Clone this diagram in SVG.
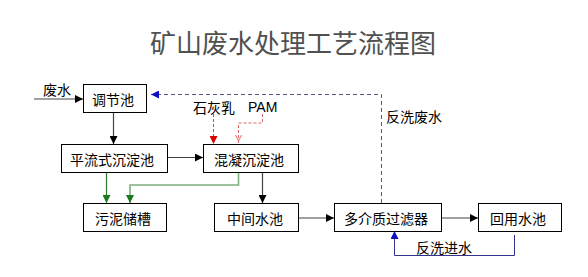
<svg xmlns="http://www.w3.org/2000/svg" width="588" height="277" viewBox="0 0 588 277">
<style>
text{font-family:"Noto Sans CJK SC","Liberation Sans",sans-serif;fill:#000}
.t{font-size:14px;text-anchor:middle;dominant-baseline:central}
.lbl{font-size:14px;dominant-baseline:central}
.title{font-size:26px;fill:#505050;text-anchor:middle;dominant-baseline:central}
rect{fill:#fff;stroke:#000;stroke-width:1}
.k{fill:none;stroke:#444;stroke-width:1.2}
.g{fill:none;stroke:#2a7a2a;stroke-width:1.2}
.lg{fill:none;stroke:#7fae7f;stroke-width:1.6}
.r{fill:none;stroke:#d44;stroke-width:1;stroke-dasharray:3 2}
.r2{fill:none;stroke:#d66;stroke-width:1;stroke-dasharray:3 2}
.bd{fill:none;stroke:#55558a;stroke-width:1;stroke-dasharray:4 3}
.b{fill:none;stroke:#33338a;stroke-width:1}
</style>
<defs>
<marker id="ak" markerUnits="userSpaceOnUse" markerWidth="8" markerHeight="8" refX="8" refY="4" orient="auto"><path d="M0,0 L8,4 L0,8 z" fill="#000"/></marker>
<marker id="ag" markerUnits="userSpaceOnUse" markerWidth="8" markerHeight="8" refX="8" refY="4" orient="auto"><path d="M0,0 L8,4 L0,8 z" fill="#1a7a1a"/></marker>
<marker id="ar" markerUnits="userSpaceOnUse" markerWidth="8" markerHeight="8" refX="8" refY="4" orient="auto"><path d="M0,0 L8,4 L0,8 z" fill="#d00"/></marker>
<marker id="ar2" markerUnits="userSpaceOnUse" markerWidth="8" markerHeight="8" refX="8" refY="4" orient="auto"><path d="M0,1 L6,4 L0,7" fill="none" stroke="#e66" stroke-width="1"/></marker>
<marker id="ab" markerUnits="userSpaceOnUse" markerWidth="8" markerHeight="8" refX="8" refY="4" orient="auto"><path d="M0,0 L8,4 L0,8 z" fill="#1010c0"/></marker>
</defs>
<text class="title" x="293" y="41">矿山废水处理工艺流程图</text>
<g id="connectors">
<line class="k" x1="34" y1="99" x2="83" y2="99" marker-end="url(#ak)"/>
<line class="k" x1="113.5" y1="112" x2="113.5" y2="144" marker-end="url(#ak)"/>
<line class="k" x1="167" y1="157.5" x2="203" y2="157.5" marker-end="url(#ak)"/>
<line class="g" x1="106.5" y1="172" x2="106.5" y2="203" marker-end="url(#ag)"/>
<polyline class="lg" points="238.5,172 238.5,185 130,185 130,196"/>
<line class="g" x1="130" y1="195" x2="130" y2="203" marker-end="url(#ag)"/>
<line class="k" x1="262.5" y1="172" x2="262.5" y2="203" marker-end="url(#ak)"/>
<line class="r" x1="213.5" y1="114" x2="213.5" y2="144" marker-end="url(#ar)"/>
<polyline class="r2" points="262.5,114 262.5,123 238.5,123 238.5,143" marker-end="url(#ar2)"/>
<line class="k" x1="298" y1="218" x2="334" y2="218" marker-end="url(#ak)"/>
<line class="k" x1="442" y1="218" x2="478" y2="218" marker-end="url(#ak)"/>
<polyline class="bd" points="381.5,203 381.5,94.5 151,94.5" marker-end="url(#ab)"/>
<polyline class="b" points="514.5,235 514.5,255.5 394.5,255.5 394.5,231" marker-end="url(#ab)"/>
</g>
<text class="lbl" x="43" y="89">废水</text>
<text class="lbl" x="193" y="107">石灰乳</text>
<text class="lbl" x="248" y="107" style="font-family:'Liberation Sans',sans-serif;font-size:14px">PAM</text>
<text class="lbl" x="386" y="116">反洗废水</text>
<text class="lbl" x="416" y="247">反洗进水</text>
<g id="n1"><rect x="83.5" y="84.5" width="63" height="28"/><text class="t" x="113" y="98.5">调节池</text></g>
<g id="n2"><rect x="61.5" y="144.5" width="106" height="28"/><text class="t" x="112" y="158.5">平流式沉淀池</text></g>
<g id="n3"><rect x="203.5" y="144.5" width="95" height="28"/><text class="t" x="249" y="158.5">混凝沉淀池</text></g>
<g id="n4"><rect x="83.5" y="203.5" width="83" height="28"/><text class="t" x="123" y="217.5">污泥储槽</text></g>
<g id="n5"><rect x="214.5" y="203.5" width="84" height="28"/><text class="t" x="255" y="217.5">中间水池</text></g>
<g id="n6"><rect x="334.5" y="203.5" width="107" height="28"/><text class="t" x="386" y="217.5">多介质过滤器</text></g>
<g id="n7"><rect x="478.5" y="203.5" width="83" height="28"/><text class="t" x="518" y="217.5">回用水池</text></g>
</svg>
